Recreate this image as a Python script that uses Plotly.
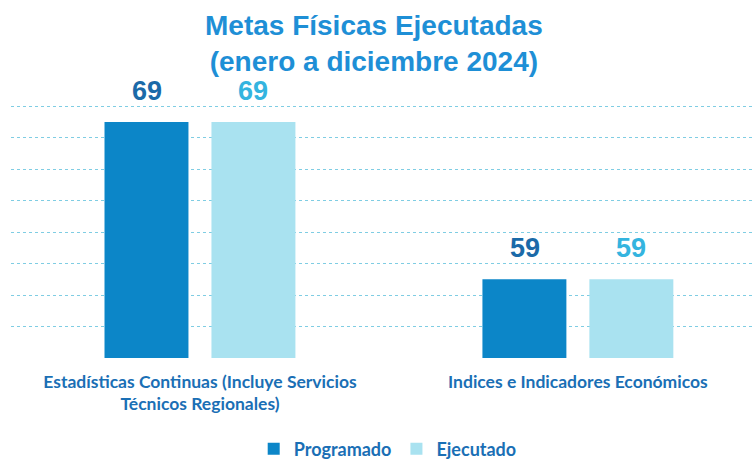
import plotly.graph_objects as go

categories = ["Estadísticas Continuas (Incluye Servicios<br>Técnicos Regionales)",
              "Indices e Indicadores Económicos"]
programado = [69, 59]
ejecutado = [69, 59]
series_names = ["Programado", "Ejecutado"]
title_lines = ["Metas Físicas Ejecutadas", "(enero a diciembre 2024)"]

dark = "#0c86c8"
light = "#a9e2f0"
label_font = "Lato, Liberation Sans, sans-serif"

fig = go.Figure()
fig.add_trace(go.Bar(name=f"<b>{series_names[0]}</b>", x=categories, y=programado,
                     marker=dict(color=dark, line=dict(width=0))))
fig.add_trace(go.Bar(name=f"<b>{series_names[1]}</b>", x=categories, y=ejecutado,
                     marker=dict(color=light, line=dict(width=0))))

# value labels above bars
label_colors = ["#1b6aa8", "#34b4df"]
for si, vals in enumerate([programado, ejecutado]):
    for ci, v in enumerate(vals):
        fig.add_annotation(x=categories[ci], y=v, xref="x", yref="y",
                           text=f"<b>{v}</b>", showarrow=False,
                           yanchor="bottom", yshift=14,
                           xshift=(-53 if si == 0 else 53),
                           font=dict(family="Liberation Sans, Arial, sans-serif",
                                     size=27, color=label_colors[si]))

# title as annotation
fig.add_annotation(x=0.488, y=1.243, xref="paper", yref="paper",
                   xanchor="center", yanchor="middle", showarrow=False,
                   text="<b>" + "<br>".join(title_lines) + "</b>",
                   font=dict(family="Liberation Sans, Arial, sans-serif", size=28,
                             color="#1e8fd6"))

fig.update_layout(
    width=754, height=459,
    margin=dict(l=11, r=0, t=105, b=101, autoexpand=False),
    paper_bgcolor="white", plot_bgcolor="white",
    barmode="group", bargap=0.434, bargroupgap=0.215,
    xaxis=dict(range=[-0.5, 1.466], showgrid=False, showline=False, zeroline=False,
               automargin=False,
               ticks="", tickfont=dict(family=label_font, size=17.5, color="#1a6fb5"),
               ticklabelstandoff=11),
    yaxis=dict(range=[54, 70.08], dtick=2, showticklabels=False, showline=False,
               automargin=False,
               zeroline=False, showgrid=True, gridcolor="#7fcde3", griddash="dot",
               gridwidth=1),
    legend=dict(orientation="h", x=0.507, xanchor="center", y=-0.36, yanchor="middle",
                font=dict(family=label_font, size=18, color="#1a6fb5"),
                itemwidth=30, traceorder="normal"),
    showlegend=True,
)
fig.update_xaxes(tickvals=categories,
                 ticktext=[f"<b>{c}</b>" for c in categories])

fig.write_html("out.html", config={"displayModeBar": False},
               post_script="document.body.style.margin='0px';")
